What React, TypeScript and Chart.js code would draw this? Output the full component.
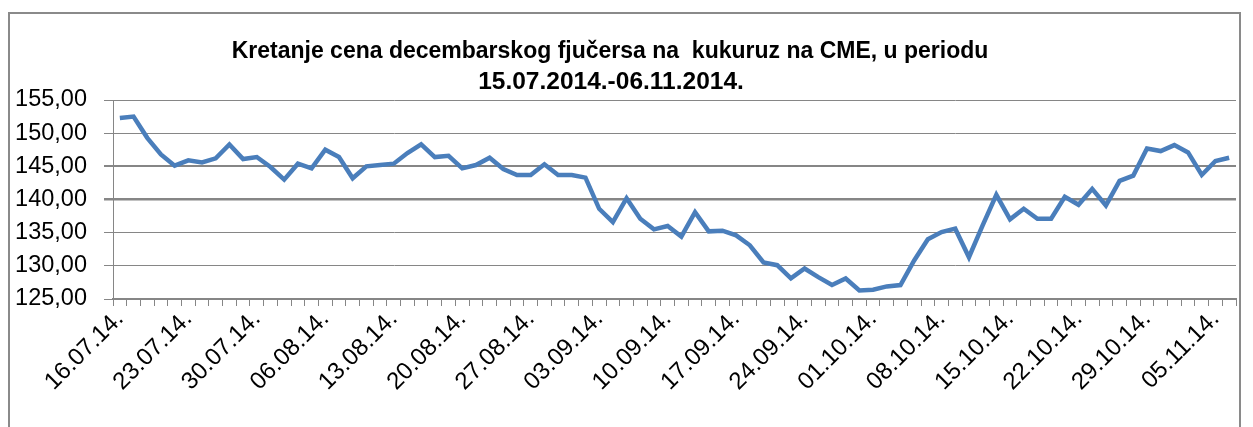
import React, { useEffect, useRef } from "react";
import { Chart, registerables } from "chart.js";

Chart.register(...registerables);

const titleLines = [
  "Kretanje cena decembarskog fjučersa na  kukuruz na CME, u periodu",
  "15.07.2014.-06.11.2014.",
];

const dates = [
  "16.07.14.", "17.07.14.", "18.07.14.", "21.07.14.", "22.07.14.",
  "23.07.14.", "24.07.14.", "25.07.14.", "28.07.14.", "29.07.14.",
  "30.07.14.", "31.07.14.", "01.08.14.", "04.08.14.", "05.08.14.",
  "06.08.14.", "07.08.14.", "08.08.14.", "11.08.14.", "12.08.14.",
  "13.08.14.", "14.08.14.", "15.08.14.", "18.08.14.", "19.08.14.",
  "20.08.14.", "21.08.14.", "22.08.14.", "25.08.14.", "26.08.14.",
  "27.08.14.", "28.08.14.", "29.08.14.", "01.09.14.", "02.09.14.",
  "03.09.14.", "04.09.14.", "05.09.14.", "08.09.14.", "09.09.14.",
  "10.09.14.", "11.09.14.", "12.09.14.", "15.09.14.", "16.09.14.",
  "17.09.14.", "18.09.14.", "19.09.14.", "22.09.14.", "23.09.14.",
  "24.09.14.", "25.09.14.", "26.09.14.", "29.09.14.", "30.09.14.",
  "01.10.14.", "02.10.14.", "03.10.14.", "06.10.14.", "07.10.14.",
  "08.10.14.", "09.10.14.", "10.10.14.", "13.10.14.", "14.10.14.",
  "15.10.14.", "16.10.14.", "17.10.14.", "20.10.14.", "21.10.14.",
  "22.10.14.", "23.10.14.", "24.10.14.", "27.10.14.", "28.10.14.",
  "29.10.14.", "30.10.14.", "31.10.14.", "03.11.14.", "04.11.14.",
  "05.11.14.", "06.11.14.",
];

const prices = [
  152.3, 152.5, 149.3, 146.8, 145.1, 145.9, 145.6, 146.2, 148.3, 146.1,
  146.4, 144.9, 143.0, 145.4, 144.7, 147.5, 146.4, 143.2, 145.0, 145.2,
  145.4, 147.0, 148.3, 146.4, 146.6, 144.7, 145.2, 146.3, 144.6, 143.7,
  143.7, 145.3, 143.7, 143.7, 143.3, 138.6, 136.6, 140.2, 137.1, 135.5,
  136.0, 134.4, 138.1, 135.2, 135.3, 134.6, 133.1, 130.5, 130.1, 128.1,
  129.6, 128.3, 127.1, 128.1, 126.3, 126.4, 126.9, 127.1, 130.8, 134.0,
  135.1, 135.6, 131.3, 136.1, 140.7, 137.0, 138.6, 137.1, 137.1, 140.4,
  139.2, 141.6, 139.1, 142.8, 143.6, 147.7, 147.3, 148.2, 147.1, 143.7,
  145.8, 146.3,
];

const yMin = 125;
const yMax = 155;
const yStep = 5;
const labelEvery = 5;

const FONT = "'Liberation Sans', Arial, sans-serif";
const GRID = "#868686";

const framePlugin = {
  id: "frameAndTitle",
  beforeDraw(chart: any) {
    const ctx = chart.ctx;
    ctx.save();
    ctx.fillStyle = "#ffffff";
    ctx.fillRect(0, 0, chart.width, chart.height);
    ctx.strokeStyle = "#8a8a8a";
    ctx.lineWidth = 2;
    ctx.strokeRect(9, 13, 1231, 600);
    ctx.restore();
  },
  afterDraw(chart: any) {
    const ctx = chart.ctx;
    ctx.save();
    ctx.fillStyle = "#000000";
    ctx.textAlign = "center";
    ctx.textBaseline = "alphabetic";
    ctx.font = "bold 23px " + FONT;
    ctx.fillText(titleLines[0], 610, 58);
    ctx.font = "bold 24.5px " + FONT;
    ctx.fillText(titleLines[1], 611, 89);
    ctx.restore();
  },
};

export default function App() {
  const ref = useRef<HTMLCanvasElement | null>(null);

  useEffect(() => {
    if (!ref.current) return;
    const chart = new Chart(ref.current, {
      type: "line",
      data: {
        labels: dates,
        datasets: [
          {
            data: prices,
            borderColor: "#4a7ebb",
            borderWidth: 4.5,
            pointRadius: 0,
            tension: 0,
            fill: false,
          },
        ],
      },
      options: {
        animation: false,
        responsive: false,
        devicePixelRatio: 1,
        layout: { padding: { top: 100, right: 17, left: 0, bottom: 0 } },
        plugins: {
          legend: { display: false },
          tooltip: { enabled: false },
          title: { display: false },
        },
        scales: {
          x: {
            type: "category",
            offset: true,
            afterFit: (s: any) => {
              s.height = 128;
            },
            grid: {
              offset: true,
              drawOnChartArea: false,
              drawTicks: true,
              tickLength: 7,
              color: GRID,
              lineWidth: 1,
            },
            border: { display: true, color: GRID, width: 2 },
            ticks: {
              autoSkip: false,
              maxRotation: 45,
              minRotation: 45,
              padding: -1,
              color: "#000",
              font: { family: FONT, size: 24 },
              callback: (_v: any, i: number) => (i % labelEvery === 0 ? dates[i] : ""),
            },
          },
          y: {
            min: yMin,
            max: yMax,
            afterFit: (s: any) => {
              s.width = 113;
            },
            grid: {
              color: GRID,
              drawTicks: true,
              tickLength: 9,
              lineWidth: (c: any) => {
                const v = c.tick ? c.tick.value : 0;
                if (v === 140) return 2.5;
                if (v === 145) return 2;
                return 1;
              },
            },
            border: { display: true, color: GRID, width: 1 },
            ticks: {
              stepSize: yStep,
              padding: 17,
              color: "#000",
              font: { family: FONT, size: 23.5 },
              callback: (v: any) => Number(v).toFixed(2).replace(".", ","),
            },
          },
        },
      },
      plugins: [framePlugin],
    });
    return () => chart.destroy();
  }, []);

  return (
    <div style={{ position: "absolute", left: 0, top: 0, width: 1253, height: 427, overflow: "hidden", background: "#fff" }}>
      <canvas ref={ref} width={1253} height={427} style={{ display: "block" }} />
    </div>
  );
}
